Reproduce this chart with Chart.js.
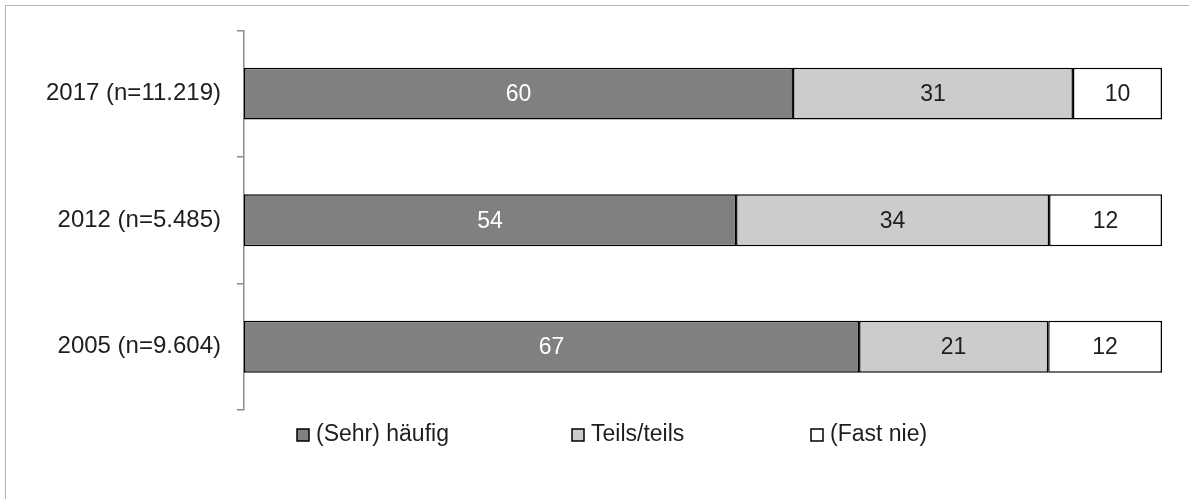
<!DOCTYPE html>
<html>
<head>
<meta charset="utf-8">
<script src="https://cdn.jsdelivr.net/npm/chart.js@4"></script>
<style>
  html, body { margin: 0; padding: 0; background: #fff; overflow: hidden; }
  #frame { position: absolute; left: 5px; top: 5px; width: 1200px; height: 520px; border: 1px solid #b4b4b4; }
  #wrap { position: absolute; left: 0; top: 0; width: 1189px; height: 499px; }
</style>
</head>
<body>
<div id="frame"></div>
<div id="wrap"><canvas id="chart"></canvas></div>
<script>
// categories (top to bottom)
const years = ["2017 (n=11.219)", "2012 (n=5.485)", "2005 (n=9.604)"];

// bar shares (percent)
const haeufig = [59.8, 53.6, 67.0];
const teils = [30.5, 34.1, 20.6];
const fastNie = [9.7, 12.3, 12.4];

// numbers printed inside the bars
const haeufigLabels = [60, 54, 67];
const teilsLabels = [31, 34, 21];
const fastNieLabels = [10, 12, 12];

const seriesNames = ["(Sehr) häufig", "Teils/teils", "(Fast nie)"];

const FONT = "'Liberation Sans', Arial, sans-serif";

// value labels inside the segments
const barLabels = {
    id: "barLabels",
    afterDatasetsDraw(chart) {
        const ctx = chart.ctx;
        const all = [haeufigLabels, teilsLabels, fastNieLabels];
        ctx.save();
        ctx.font = "23px " + FONT;
        ctx.textAlign = "center";
        ctx.textBaseline = "middle";
        chart.data.datasets.forEach((ds, i) => {
            chart.getDatasetMeta(i).data.forEach((bar, j) => {
                ctx.fillStyle = i === 0 ? "#ffffff" : "#1e1e1e";
                ctx.fillText(String(all[i][j]), (bar.x + bar.base) / 2, bar.y + 1);
            });
        });
        ctx.restore();
    }
};

// legend row under the chart
const legendRow = {
    id: "legendRow",
    afterDraw(chart) {
        const ctx = chart.ctx;
        const xs = [297, 572, 811];
        const y = 435;
        ctx.save();
        ctx.font = "23px " + FONT;
        ctx.textBaseline = "middle";
        chart.data.datasets.forEach((ds, i) => {
            ctx.fillStyle = ds.backgroundColor;
            ctx.fillRect(xs[i], y - 6, 12, 12);
            ctx.strokeStyle = "#000";
            ctx.lineWidth = 1.5;
            ctx.strokeRect(xs[i], y - 6, 12, 12);
            ctx.fillStyle = "#1e1e1e";
            ctx.fillText(ds.label, xs[i] + 19, y);
        });
        ctx.restore();
    }
};

new Chart(document.getElementById("chart"), {
    type: "bar",
    data: {
        labels: years,
        datasets: [
            { label: seriesNames[0], data: haeufig, backgroundColor: "#808080" },
            { label: seriesNames[1], data: teils, backgroundColor: "#cccccc" },
            { label: seriesNames[2], data: fastNie, backgroundColor: "#ffffff" }
        ].map(d => Object.assign(d, {
            borderColor: "#000000",
            borderWidth: 1.5,
            borderSkipped: false,
            categoryPercentage: 1,
            barPercentage: 0.41
        }))
    },
    options: {
        indexAxis: "y",
        responsive: true,
        maintainAspectRatio: false,
        animation: false,
        layout: { padding: { left: 0, right: 27, top: 29, bottom: 89 } },
        plugins: {
            legend: { display: false },
            tooltip: { enabled: false }
        },
        scales: {
            x: {
                stacked: true,
                min: 0,
                max: 100,
                display: false
            },
            y: {
                stacked: true,
                afterFit(scale) { scale.width = 244; },
                border: { display: true, color: "#8c8c8c", width: 1.5 },
                grid: {
                    drawOnChartArea: false,
                    drawTicks: true,
                    tickLength: 7,
                    color: "#8c8c8c",
                    lineWidth: 1.5
                },
                ticks: {
                    padding: 16,
                    color: "#1e1e1e",
                    font: { family: FONT, size: 24 }
                }
            }
        }
    },
    plugins: [barLabels, legendRow]
});
</script>
</body>
</html>
